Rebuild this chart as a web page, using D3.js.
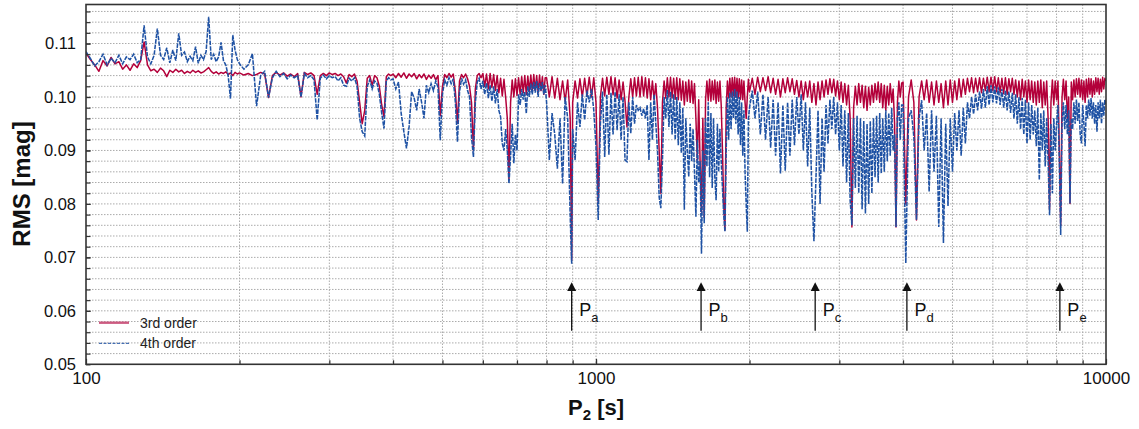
<!DOCTYPE html>
<html><head><meta charset="utf-8">
<script src="https://cdn.jsdelivr.net/npm/d3@7"></script>
<style>body{margin:0;background:#fff}svg{display:block}</style>
</head><body>
<svg id="c" width="1139" height="429"></svg>
<script>
// ---------------- DATA ----------------
const periods = [
100,102,104,106,108,110,112,114,116,118,120,122,124,126,128,130,132,134,136,138,140,142,144,146,148,150,152,154,156,158,160,162,164,166,168,170,172,174,176,178,180,182,184,186,188,190,192,194,196,198,
200,204,208,212,216,220,224,228,232,236,240,244,248,252,256,260,264,268,272,276,280,284,288,292,296,300,304,308,312,316,320,324,328,332,336,340,344,348,352,356,360,364,368,372,376,380,384,388,392,396,
400,405,410,415,420,425,430,435,440,445,450,455,460,465,470,475,480,485,490,495,500,505,510,515,520,525,530,535,540,545,550,555,560,565,570,575,580,585,590,595,600,605,610,615,620,625,630,635,640,645,650,655,660,665,670,675,680,685,690,695,700,705,710,715,720,725,730,735,740,745,750,755,760,765,770,775,780,785,790,795,
800,810,820,830,840,850,860,870,880,890,896,900,910,920,930,940,950,960,970,980,990,1000,1010,1020,1030,1040,1050,1060,1070,1080,1090,1100,1110,1120,1130,1140,1150,1160,1170,1180,1190,1200,1210,1220,1230,1240,1250,1260,1270,1280,1290,1300,1310,1320,1330,1340,1350,1360,1370,1380,1390,1400,1410,1420,1430,1440,1450,1460,1470,1480,1490,1500,1510,1520,1530,1540,1550,1560,1570,1580,1590,1600,1610,1620,1630,1640,1650,1660,1670,1680,1690,1700,1710,1720,1730,1740,1750,1760,1770,1780,1790,1800,1810,1820,1830,1840,1850,1860,1870,1880,1890,1900,1910,1920,1930,1940,1950,1960,1970,1980,1990,
2000,2025,2050,2075,2100,2125,2150,2175,2200,2225,2250,2275,2300,2325,2350,2375,2400,2425,2450,2475,2500,2525,2550,2575,2600,2625,2650,2675,2700,2725,2750,2775,2800,2825,2850,2875,2900,2925,2950,2975,3000,3025,3050,3075,3100,3125,3150,3175,3200,3225,3250,3275,3300,3325,3350,3375,3400,3425,3450,3475,3500,3525,3550,3575,3600,3625,3650,3675,3700,3725,3750,3775,3800,3825,3850,3875,3900,3925,3950,3975,
4000,4050,4100,4150,4200,4250,4300,4350,4400,4450,4500,4550,4600,4650,4700,4750,4800,4850,4900,4950,5000,5050,5100,5150,5200,5250,5300,5350,5400,5450,5500,5550,5600,5650,5700,5750,5800,5850,5900,5950,6000,6050,6100,6150,6200,6250,6300,6350,6400,6450,6500,6550,6600,6650,6700,6750,6800,6850,6900,6950,7000,7050,7100,7150,7200,7250,7300,7350,7400,7450,7500,7550,7600,7650,7700,7750,7800,7850,7900,7950,
8000,8050,8100,8150,8200,8250,8300,8350,8400,8450,8500,8550,8600,8650,8700,8750,8800,8850,8900,8950,9000,9050,9100,9150,9200,9250,9300,9350,9400,9450,9500,9550,9600,9650,9700,9750,9800,9850,9900,9950,10000
];

const rms3rd = [
0.1082,0.1070,0.1060,0.1048,0.1068,0.1058,0.1074,0.1062,0.1066,0.1052,
0.1060,0.1050,0.1062,0.1055,0.1068,0.1103,0.1060,0.1049,0.1052,0.1046,
0.1054,0.1049,0.1038,0.1050,0.1046,0.1052,0.1047,0.1050,0.1044,0.1048,
0.1045,0.1050,0.1046,0.1049,0.1045,0.1047,0.1051,0.1055,0.1048,0.1044,
0.1047,0.1043,0.1046,0.1044,0.1047,0.1042,0.1045,0.1040,0.1046,0.1043,
0.1045,0.1041,0.1044,0.1040,0.1042,0.1046,0.1043,0.0999,0.1040,0.1046,
0.1041,0.1045,0.1039,0.1043,0.1038,0.1044,0.1000,0.1046,0.1042,0.1045,
0.1040,0.1005,0.1040,0.1044,0.1040,0.1045,0.1042,0.1044,0.1040,0.1043,
0.1038,0.1026,0.1042,0.1038,0.1043,0.1030,0.0990,0.0950,0.0975,0.1035,
0.1040,0.1022,0.1040,0.1036,0.1020,0.0985,0.0963,0.1038,0.1043,0.1040,
0.1043,0.1036,0.1044,0.1037,0.1045,0.1035,0.1043,0.1038,0.1044,0.1034,
0.1042,0.1036,0.1043,0.1033,0.1041,0.1035,0.1042,0.1032,0.1040,0.0965,
0.1020,0.1042,0.1036,0.1044,0.1037,0.1043,0.1010,0.0951,0.1030,0.1042,
0.1036,0.1043,0.1034,0.1020,0.0990,0.0900,0.1015,0.1040,0.1044,0.1036,
0.1044,0.1020,0.1043,0.1015,0.1044,0.1018,0.1042,0.1012,0.1040,0.1008,
0.1035,0.1002,0.1033,0.1000,0.0960,0.0845,0.0990,0.1032,0.1000,0.1034,
0.1003,0.1036,0.1005,0.1038,0.1008,0.1040,0.1005,0.1039,0.1010,0.1041,
0.1010,0.1042,0.1012,0.1040,0.1008,0.1041,0.1012,0.1038,0.1005,0.1036,
0.1036,0.1000,0.1038,0.0998,0.1035,0.0995,0.1030,0.0992,0.1032,0.0960,
0.0695,
0.0990,0.1030,0.0998,0.1034,0.1000,0.1035,0.1002,0.1037,0.1000,0.1036,
0.0990,0.0801,0.1000,0.1035,0.1002,0.1037,0.1005,0.1038,0.1004,0.1036,
0.0998,0.1032,0.0995,0.1028,0.0992,0.0944,0.1000,0.1034,0.1000,0.1036,
0.1002,0.1037,0.1000,0.1038,0.1002,0.1036,0.0998,0.1034,0.0995,0.1030,
0.0995,0.1025,0.0980,0.0900,0.0820,0.0990,0.1030,0.0998,0.1036,0.1000,
0.1037,0.0998,0.1035,0.0996,0.1036,0.0995,0.1034,0.0994,0.1030,0.0985,
0.1028,0.0992,0.1032,0.0990,0.1030,0.0988,0.1025,0.0960,0.0882,0.0995,
0.0880,0.0785,0.0960,0.0775,0.0995,0.1030,0.0993,0.1033,0.0992,0.1030,
0.0995,0.1032,0.0988,0.1028,0.0992,0.1030,0.0985,0.0900,0.0800,0.0751,
0.0980,0.1030,0.0998,0.1035,0.1000,0.1036,0.1002,0.1037,0.1000,0.1035,
0.0998,0.1034,0.0996,0.1032,0.0995,0.1030,0.0990,0.0960,0.1000,0.1033,
0.1010,0.1035,0.1005,0.1037,0.1010,0.1036,0.1012,0.1038,0.1008,0.1035,
0.1005,0.1033,0.1000,0.1034,0.1008,0.1036,0.1010,0.1034,0.1005,0.1031,
0.1000,0.1030,0.0995,0.1028,0.1000,0.1030,0.0990,0.1025,0.0985,0.1028,
0.0995,0.1030,0.1000,0.1032,0.1005,0.1034,0.1008,0.1033,0.1002,0.1030,
0.0995,0.1028,0.0990,0.1025,0.0985,0.1022,0.0960,0.0757,0.0980,0.1020,
0.0985,0.1025,0.0990,0.1022,0.0980,0.1020,0.0975,0.1018,0.0985,0.1022,
0.0990,0.1025,0.0995,0.1028,0.0990,0.1025,0.0980,0.1022,0.0975,0.1020,
0.0985,0.1025,0.0990,0.1015,0.0950,0.0757,0.0990,0.1030,0.1000,0.1026,
0.1028,0.0800,0.1000,0.1032,0.0990,0.0770,0.1000,0.1030,0.0995,0.1032,
0.0990,0.1028,0.0985,0.1030,0.0990,0.1025,0.0980,0.1030,0.0985,0.1032,
0.0990,0.1030,0.0995,0.1034,0.1000,0.1033,0.1005,0.1035,0.1010,0.1036,
0.1008,0.1035,0.1010,0.1036,0.1008,0.1035,0.1012,0.1037,0.1010,0.1037,
0.1012,0.1038,0.1010,0.1036,0.1008,0.1035,0.1006,0.1036,0.1005,0.1034,
0.1010,0.1035,0.1005,0.1032,0.1000,0.1030,0.0995,0.1033,0.1000,0.1030,
0.0990,0.1032,0.0995,0.1030,0.0990,0.1028,0.0985,0.1030,0.0990,0.1032,
0.0980,0.1028,0.0985,0.1030,0.0960,0.0790,0.0990,0.1032,0.0985,0.1030,
0.0995,0.1030,0.0900,0.0760,0.1000,0.1033,0.0995,0.1030,0.0960,0.1000,
0.0801,0.1028,0.0995,0.1032,0.1000,0.1034,0.1005,0.1035,0.1000,0.1032,
0.0995,0.1030,0.0990,0.1033,0.1000,0.1035,0.1005,0.1034,0.1000,0.1030,
0.1005,0.1036,0.1010,0.1035,0.1005,0.1033,0.1010,0.1037,0.1015,0.1035,
0.1030
];

const rms4th = [
0.1085,0.1072,0.1058,0.1066,0.1080,0.1060,0.1072,0.1064,0.1078,0.1062,
0.1075,0.1070,0.1080,0.1064,0.1070,0.1134,0.1075,0.1062,0.1078,0.1128,
0.1078,0.1070,0.1092,0.1064,0.1088,0.1068,0.1119,0.1078,0.1084,0.1066,
0.1076,0.1068,0.1094,0.1063,0.1078,0.1070,0.1085,0.1150,0.1070,0.1080,
0.1066,0.1075,0.1102,0.1068,0.1060,0.1040,0.0997,0.1116,0.1088,0.1070,
0.1062,0.1052,0.1060,0.1081,0.0983,0.1040,0.1048,0.0999,0.1036,0.1048,
0.1038,0.1044,0.1034,0.1041,0.1036,0.1040,0.1000,0.1044,0.1036,0.1040,
0.1032,0.0957,0.1035,0.1041,0.1034,0.1040,0.1036,0.1038,0.1030,0.1036,
0.1022,0.1020,0.1035,0.1030,0.1036,0.1020,0.0960,0.0935,0.0927,0.1020,
0.1032,0.1015,0.1030,0.1026,0.1005,0.0970,0.0941,0.1030,0.1036,0.1032,
0.1034,0.1015,0.1028,0.0969,0.0935,0.0904,0.0944,0.1010,0.0998,0.0975,
0.1015,0.0990,0.0960,0.1022,0.1008,0.1025,0.1012,0.1030,0.1018,0.0919,
0.1005,0.1032,0.1022,0.1036,0.1025,0.1034,0.0990,0.0916,0.1010,0.1035,
0.1024,0.1032,0.1012,0.1000,0.0925,0.0888,0.0990,0.1028,0.1035,0.1015,
0.1030,0.1005,0.1026,0.0998,0.1022,0.0992,0.1020,0.0988,0.1015,0.0975,
0.0963,0.0913,0.0900,0.0940,0.0900,0.0838,0.0890,0.0950,0.0876,0.0930,
0.0900,0.1005,0.0985,0.1015,0.0995,0.1010,0.0969,0.1020,0.1000,0.1025,
0.1005,0.1028,0.1008,0.1030,0.1000,0.1026,0.1012,0.1028,0.1005,0.1022,
0.0990,0.0882,0.0970,0.0930,0.0866,0.0960,0.0838,0.1000,0.0960,0.0779,
0.0688,
0.0940,0.0882,0.0990,0.0944,0.1005,0.0957,0.1012,0.0990,0.1015,0.0975,
0.0907,0.0770,0.0950,0.1010,0.0888,0.1005,0.0892,0.1008,0.0930,0.1010,
0.0938,0.1005,0.0920,0.1000,0.0882,0.0879,0.0990,0.0932,0.1000,0.0950,
0.0985,0.0975,0.0980,0.0965,0.0978,0.0960,0.0985,0.0882,0.0990,0.0920,
0.1005,0.0950,0.0900,0.0813,0.0792,0.0882,0.1000,0.0960,0.1013,0.0944,
0.1010,0.0930,0.1005,0.0920,0.1000,0.0910,0.0990,0.0895,0.0980,0.0789,
0.0960,0.0900,0.0851,0.0950,0.0880,0.0940,0.0860,0.0776,0.0920,0.0840,
0.0880,0.0707,0.0900,0.0764,0.0960,0.0870,0.0990,0.0850,0.0970,0.0830,
0.0960,0.0850,0.0807,0.0950,0.0860,0.0940,0.0880,0.0830,0.0780,0.0748,
0.0900,0.1000,0.0920,0.1008,0.0940,0.1010,0.0960,0.1015,0.0950,0.1010,
0.0930,0.1000,0.0910,0.0990,0.0890,0.0975,0.0860,0.0800,0.0748,0.0960,
0.0980,0.1012,0.0960,0.1010,0.0930,0.1005,0.0920,0.1000,0.0905,0.0995,
0.0890,0.0990,0.0857,0.0985,0.0862,0.0990,0.0890,0.0995,0.0910,0.1000,
0.0930,0.1005,0.0900,0.0990,0.0870,0.0980,0.0820,0.0730,0.0850,0.0975,
0.0800,0.0960,0.0860,0.0985,0.0913,0.0995,0.0940,0.1000,0.0930,0.0990,
0.0900,0.0985,0.0870,0.0975,0.0840,0.0970,0.0807,0.0760,0.0960,0.0830,
0.0965,0.0820,0.0960,0.0790,0.0955,0.0782,0.0950,0.0800,0.0955,0.0820,
0.0960,0.0850,0.0965,0.0840,0.0970,0.0857,0.0960,0.0860,0.0975,0.0880,
0.0970,0.0890,0.0980,0.0900,0.0930,0.0757,0.0960,0.0990,0.0920,0.0985,
0.0985,0.0689,0.0960,0.0975,0.0925,0.0770,0.0960,0.0994,0.0900,0.0970,
0.0823,0.0975,0.0860,0.0965,0.0757,0.0960,0.0727,0.0950,0.0796,0.0960,
0.0860,0.0970,0.0900,0.0975,0.0890,0.0980,0.0913,0.0990,0.0960,0.1000,
0.0968,0.1005,0.0975,0.1010,0.0978,0.1015,0.0980,0.1020,0.0985,0.1022,
0.0990,0.1020,0.0988,0.1018,0.0985,0.1015,0.0980,0.1012,0.0975,0.1010,
0.0970,0.1008,0.0960,0.1005,0.0950,0.1000,0.0940,0.0998,0.0930,0.0995,
0.0913,0.0990,0.0920,0.0985,0.0930,0.0975,0.0908,0.0980,0.0845,0.0970,
0.0900,0.0975,0.0870,0.0960,0.0880,0.0779,0.0950,0.0820,0.0960,0.0900,
0.0950,0.0985,0.0880,0.0742,0.0950,0.0990,0.0940,0.0985,0.0930,0.0975,
0.0801,0.0960,0.0940,0.0990,0.0950,0.0995,0.0955,0.0990,0.0930,0.0913,
0.0985,0.0950,0.0908,0.0985,0.0960,0.0995,0.0965,0.0998,0.0960,0.0990,
0.0950,0.0985,0.0935,0.0990,0.0960,0.0995,0.0950,0.0990,0.0965,0.0995,
0.0985
];

const seriesNames = ["3rd order", "4th order"];
const yTickLabels = [0.05, 0.06, 0.07, 0.08, 0.09, 0.10, 0.11];
const xTickLabels = [100, 1000, 10000];
const markPeriods = [896, 1607, 2690, 4070, 8120];
const markLabels = ["a", "b", "c", "d", "e"];

// ---------------- CHART ----------------
const L = 86, R = 1106, T = 4.5, B = 364.3;
const FONT = "'Liberation Sans', Arial, Helvetica, sans-serif";
const C3 = "#b3003a", C4 = "#1f52a4";

const svg = d3.select("#c").style("font-family", FONT);
const x = d3.scaleLog().domain([100, 10000]).range([L, R]);
const y = d3.scaleLinear().domain([0.05, 0.1173]).range([B, T]);

svg.append("defs").append("clipPath").attr("id", "clip")
  .append("rect").attr("x", L).attr("y", T).attr("width", R - L).attr("height", B - T);

// grid
const xGrid = x.ticks().filter(d => d > 100 && d < 10000);
const yGrid = d3.range(26, 59).map(k => k * 0.002).filter(v => v > 0.0505 && v < 0.117);
const g = svg.append("g");
g.selectAll("line.gx").data(xGrid).join("line")
  .attr("x1", d => x(d)).attr("x2", d => x(d)).attr("y1", T).attr("y2", B)
  .attr("stroke", "#ababab").attr("stroke-width", 1).attr("stroke-dasharray", "1.5,1.5");
g.selectAll("line.gy").data(yGrid).join("line")
  .attr("x1", L).attr("x2", R).attr("y1", d => y(d)).attr("y2", d => y(d))
  .attr("stroke", "#ababab").attr("stroke-width", 1).attr("stroke-dasharray", "1.5,1.5");

// series
const n = Math.min(periods.length, rms3rd.length, rms4th.length);
const idx = d3.range(n);
const line3 = d3.line().x(i => x(periods[i])).y(i => y(rms3rd[i]));
const line4 = d3.line().x(i => x(periods[i])).y(i => y(rms4th[i]));
const pg = svg.append("g").attr("clip-path", "url(#clip)");
pg.append("path").attr("d", line3(idx)).attr("fill", "none")
  .attr("stroke", C3).attr("stroke-width", 1.5).attr("stroke-linejoin", "round");
pg.append("path").attr("d", line4(idx)).attr("fill", "none")
  .attr("stroke", C4).attr("stroke-width", 1.55).attr("stroke-dasharray", "4.5,1.1");

// axes
const yAxis = d3.axisLeft(y).tickValues(yTickLabels).tickFormat(d3.format(".2f"))
  .tickSizeInner(-4.5).tickSizeOuter(0).tickPadding(10);
const yMinor = d3.axisLeft(y).tickValues(yGrid).tickFormat("").tickSizeInner(-4.5).tickSizeOuter(0);
const xAxis = d3.axisBottom(x).tickValues(xTickLabels).tickFormat(d3.format("d"))
  .tickSizeInner(-5.5).tickSizeOuter(0).tickPadding(8);
const xMinor = d3.axisBottom(x).tickValues(xGrid).tickFormat("").tickSizeInner(-4).tickSizeOuter(0);

function styleAxis(sel, fs) {
  sel.select(".domain").remove();
  sel.selectAll(".tick line").attr("stroke", "#333").attr("stroke-width", 1.2);
  sel.selectAll(".tick text").attr("fill", "#111").style("font-size", fs + "px").style("font-family", FONT);
}
svg.append("g").attr("transform", `translate(${L},0)`).call(yMinor).call(s => styleAxis(s, 16));
svg.append("g").attr("transform", `translate(${L},0)`).call(yAxis).call(s => styleAxis(s, 16.5));
svg.append("g").attr("transform", `translate(0,${B})`).call(xMinor).call(s => styleAxis(s, 16));
svg.append("g").attr("transform", `translate(0,${B})`).call(xAxis).call(s => styleAxis(s, 17));

// frame
svg.append("rect").attr("x", L).attr("y", T).attr("width", R - L).attr("height", B - T)
  .attr("fill", "none").attr("stroke", "#333").attr("stroke-width", 1.6);

// axis titles
const xt = svg.append("text").attr("x", 596).attr("y", 415).attr("text-anchor", "middle")
  .style("font-size", "22px").style("font-weight", "bold").attr("fill", "#111");
xt.append("tspan").text("P");
xt.append("tspan").text("2").style("font-size", "15px").attr("dy", 5);
xt.append("tspan").text(" [s]").attr("dy", -5);

svg.append("text").attr("transform", "translate(29.5,184) rotate(-90)").attr("text-anchor", "middle")
  .style("font-size", "24px").style("font-weight", "bold").attr("fill", "#111").text("RMS [mag]");

// period markers
const mk = svg.append("g");
markPeriods.forEach((p, i) => {
  const px = x(p);
  mk.append("line").attr("x1", px).attr("x2", px).attr("y1", 330.7).attr("y2", 290)
    .attr("stroke", "#111").attr("stroke-width", 1.3);
  mk.append("path").attr("d", `M${px},282.3 L${px - 4.5},291 L${px + 4.5},291 Z`).attr("fill", "#111");
  const t = mk.append("text").attr("x", px + 7.5).attr("y", 316).attr("fill", "#111").style("font-size", "18px");
  t.append("tspan").text("P");
  t.append("tspan").text(markLabels[i]).style("font-size", "13px").attr("dy", 6);
});

// legend
const lg = svg.append("g");
lg.append("line").attr("x1", 99).attr("x2", 129).attr("y1", 322.7).attr("y2", 322.7)
  .attr("stroke", "#cc5a80").attr("stroke-width", 2.4);
lg.append("text").attr("x", 140).attr("y", 327.5).style("font-size", "14px").attr("fill", "#222").text(seriesNames[0]);
lg.append("line").attr("x1", 99).attr("x2", 129).attr("y1", 343.3).attr("y2", 343.3)
  .attr("stroke", C4).attr("stroke-width", 1).attr("stroke-dasharray", "3,1.5");
lg.append("text").attr("x", 140).attr("y", 348).style("font-size", "14px").attr("fill", "#222").text(seriesNames[1]);
</script>
</body></html>
